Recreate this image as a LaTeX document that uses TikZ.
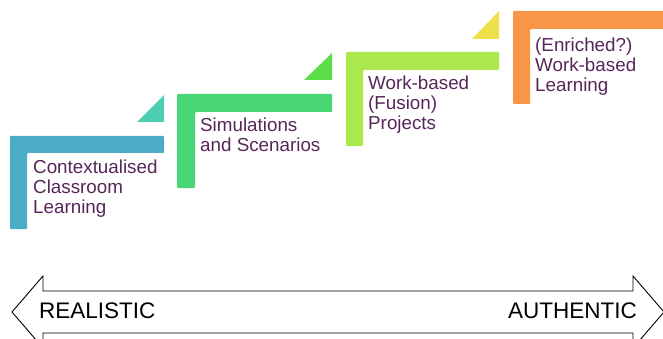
\documentclass[tikz,border=0pt]{standalone}
\usepackage{fontspec}
\usepackage{xcolor}
\usepackage{tikz}
\setmainfont{Liberation Sans}
\definecolor{stepblue}{RGB}{75,172,198}
\definecolor{trimint}{RGB}{78,206,176}
\definecolor{stepgreen}{RGB}{72,214,116}
\definecolor{trigreen}{RGB}{92,222,72}
\definecolor{steplime}{RGB}{170,232,75}
\definecolor{triyellow}{RGB}{238,224,74}
\definecolor{steporange}{RGB}{247,150,70}
\definecolor{txt}{RGB}{86,38,88}

\begin{document}
\begin{tikzpicture}[x=1pt,y=-1pt,
					stair/.style = {rounded corners=1pt},
					steplabel/.style = {anchor=north west, inner sep=0pt, align=left,
						text=txt, font=\fontsize{18.8}{20}\selectfont},
					endlabel/.style = {inner sep=0pt, font=\fontsize{22.5}{24}\selectfont}]
	\useasboundingbox (0,0) rectangle (663,339);
	\clip (0,0) rectangle (663,339);
	% steps
	\fill[stair, stepblue] (10,136) -- (164,136) -- (164,153) -- (27,153) -- (27,229) -- (10,229) -- cycle;
	\fill[trimint] (137,122) -- (164,95) -- (164,122) -- cycle;
	\fill[stair, stepgreen] (177,94) -- (332,94) -- (332,112) -- (195,112) -- (195,188) -- (177,188) -- cycle;
	\fill[trigreen] (304,80) -- (332,53) -- (332,80) -- cycle;
	\fill[stair, steplime] (346,52) -- (499,52) -- (499,70) -- (363,70) -- (363,146) -- (346,146) -- cycle;
	\fill[triyellow] (472,39) -- (499,11) -- (499,39) -- cycle;
	\fill[stair, steporange] (513,11) -- (672,11) -- (672,29) -- (530,29) -- (530,104) -- (513,104) -- cycle;
	\node[steplabel] (classroom) at (33,159.5) {Contextualised\\Classroom\\Learning};
	\node[steplabel] (simulations) at (200,117.5) {Simulations\\and Scenarios};
	\node[steplabel] (projects) at (368,75.5) {Work-based\\(Fusion)\\Projects};
	\node[steplabel] (workbased) at (535,37.5) {(Enriched?)\\Work-based\\Learning};
	% scale arrow
	\draw[line width=0.9pt, line join=miter] (12,312) -- (43,276) -- (43,291) -- (633,291) -- (633,276)
		-- (664,312) -- (633,348) -- (633,333) -- (43,333) -- (43,348) -- cycle;
	\node[endlabel, anchor=base west] (realistic) at (39,318) {REALISTIC};
	\node[endlabel, anchor=base east] (authentic) at (637,318) {AUTHENTIC};
\end{tikzpicture}
\end{document}
